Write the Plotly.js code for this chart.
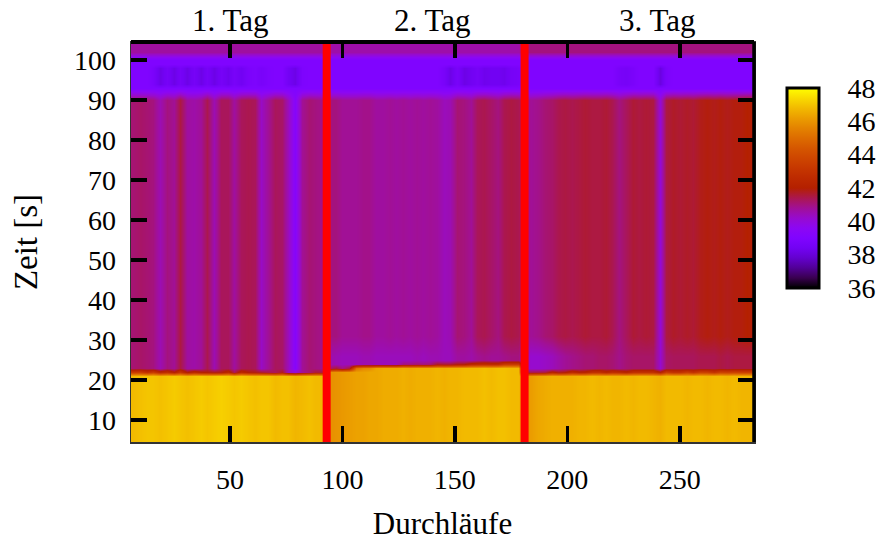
<!DOCTYPE html>
<html>
<head>
<meta charset="utf-8">
<script src="https://cdn.plot.ly/plotly-3.0.1.min.js"></script>
<style>html,body{margin:0;padding:0;background:#fff;}#chart{width:878px;height:541px;}</style>
</head>
<body>
<div id="chart"></div>
<script>
// Run (Durchlauf) column centres and time rows [s]
const runs = [7,10,13,16,19,22,25,28,31,34,37,40,43,46,49,52,55,58,61,64,67,70,73,76,79,82,85,88,91,
  94,97,100,103,106,109,112,115,118,121,124,127,130,133,136,139,142,145,148,151,154,157,160,163,166,169,172,175,178,
  181,184,187,190,193,196,199,202,205,208,211,214,217,220,223,226,229,232,235,238,241,244,247,250,253,256,259,262,265,268,271,274,277,280,283];
const times = [5,6,7,8,9,10,11,12,13,14,15,16,17,18,19,20,21,22,23,24,25,26,27,28,29,30,31,32,33,34,35,36,37,38,39,40,
  41,42,43,44,45,46,47,48,49,50,51,52,53,54,55,56,57,58,59,60,61,62,63,64,65,66,67,68,69,70,71,72,73,74,75,76,77,78,79,80,
  81,82,83,84,85,86,87,88,89,90,91,92,93,94,95,96,97,98,99,100,101,102,103,104];

// temperature of the upper body region (per run column)
const bodyTemp = [41.1,41.2,41.1,41.0,40.5,41.0,40.8,41.5,40.7,40.6,40.8,41.4,40.5,41.3,41.3,40.7,41.3,41.4,41.3,40.3,40.8,41.3,41.2,40.4,39.3,40.8,41.1,41.0,40.9,
  41.0,41.0,40.8,40.8,40.8,40.9,40.9,40.7,40.7,40.8,40.7,40.8,40.7,40.8,40.7,40.8,40.7,40.4,40.5,41.1,41.0,40.8,41.3,41.4,41.2,41.0,41.4,41.5,41.4,
  40.9,40.8,40.9,41.1,41.2,41.4,41.5,41.4,41.5,41.6,41.5,41.5,41.6,41.4,41.0,41.3,41.6,41.5,41.6,41.5,40.1,41.5,41.7,41.6,41.7,41.6,41.8,41.9,41.8,41.9,41.8,41.9,41.9,42.0,41.9];
// temperature just above the hot layer
const lowBodyTemp = [41.1,41.2,41.1,41.0,40.5,41.0,40.8,41.5,40.7,40.6,40.8,41.4,40.5,41.3,41.3,40.7,41.3,41.4,41.3,40.3,40.8,41.3,41.2,40.4,39.3,40.8,41.1,41.0,40.9,
  40.6,40.5,40.4,40.4,40.4,40.5,40.5,40.4,40.4,40.4,40.4,40.4,40.4,40.5,40.4,40.5,40.5,40.4,40.4,40.7,40.7,40.6,40.8,40.9,40.8,40.8,40.9,41.0,41.0,
  40.3,40.2,40.2,40.3,40.4,40.6,40.8,40.9,41.0,41.1,41.1,41.2,41.2,41.1,40.9,41.1,41.2,41.2,41.2,41.2,40.2,41.2,41.3,41.3,41.3,41.3,41.4,41.4,41.4,41.5,41.4,41.5,41.5,41.5,41.5];
// core of the cold band near 95 s
const bandCoreTemp = [39.0,39.0,39.0,38.8,38.2,38.6,38.2,38.6,38.2,38.6,38.2,38.6,38.2,38.6,38.3,38.7,38.4,38.8,38.9,38.7,38.9,39.0,39.0,38.5,38.2,38.9,39.0,39.0,39.0,
  39.0,39.0,39.0,39.0,39.0,39.0,39.0,39.0,39.0,39.0,39.0,39.0,39.0,39.0,39.0,39.0,39.0,38.7,38.2,38.7,38.2,38.4,38.6,38.3,38.4,38.4,38.3,38.6,38.7,
  39.0,39.0,39.0,39.0,39.0,39.0,39.0,39.0,39.0,39.0,39.0,39.0,39.0,39.0,38.7,38.6,38.8,39.0,39.0,39.0,38.1,38.8,39.0,39.0,39.0,39.0,39.0,39.0,39.0,39.0,39.0,39.0,39.0,39.0,39.0];
// hot layer (0 .. boundary)
const hotTemp = [46.8,46.9,47.0,47.0,46.9,47.0,47.1,47.0,46.9,47.0,47.1,47.0,47.1,47.2,47.1,47.0,47.1,47.0,46.9,47.0,47.0,46.8,46.9,46.9,46.7,46.8,46.9,46.8,46.8,
  45.9,46.0,46.1,46.2,46.3,46.3,46.4,46.4,46.5,46.5,46.5,46.6,46.5,46.6,46.6,46.6,46.7,46.6,46.7,46.7,46.8,46.8,46.8,46.9,46.8,46.9,46.9,46.8,46.8,
  46.0,46.2,46.4,46.5,46.6,46.6,46.6,46.6,46.7,46.7,46.8,46.7,46.8,46.7,46.7,46.8,46.7,46.8,46.8,46.7,46.6,46.8,46.8,46.8,46.7,46.8,46.8,46.7,46.8,46.8,46.7,46.8,46.7,46.7,46.7];
// upper edge of the hot layer [s]
const hotEdge = [21.9,21.9,21.8,21.9,21.8,21.8,21.7,21.8,21.7,21.8,21.7,21.6,21.7,21.6,21.7,21.6,21.7,21.6,21.6,21.7,21.6,21.5,21.6,21.5,21.6,21.5,21.5,21.6,21.6,
  22.6,22.7,22.6,22.7,23.3,23.4,23.4,23.5,23.5,23.5,23.5,23.6,23.6,23.6,23.6,23.6,23.7,23.7,23.7,23.7,23.7,23.8,23.8,23.8,23.8,23.8,23.9,23.9,23.9,
  21.7,21.7,21.7,21.7,21.8,21.7,21.7,21.8,21.7,21.7,21.8,21.8,21.7,21.8,21.8,21.7,21.8,21.8,21.8,21.8,21.8,21.9,21.8,21.8,21.9,21.8,21.9,21.9,21.8,21.9,21.9,21.9,21.9,21.9,21.9];
const bandTemp = 39.0;
const topTempByDay = [40.7, 40.6, 41.0];
const daySplits = [93, 181];
const dayLabels = ['1. Tag', '2. Tag', '3. Tag'];
const dayLabelRuns = [50, 140, 240];
const cbTicks = [36, 38, 40, 42, 44, 46, 48];
const xTicks = [50, 100, 150, 200, 250];
const yTicks = [10, 20, 30, 40, 50, 60, 70, 80, 90, 100];

// gnuplot default palette (rgbformulae 7,5,15)
const palette = [
  [0.00,'rgb(0,0,0)'],[0.05,'rgb(57,0,79)'],[0.10,'rgb(81,0,150)'],[0.15,'rgb(99,1,206)'],
  [0.20,'rgb(114,2,243)'],[0.25,'rgb(128,4,255)'],[0.30,'rgb(140,7,243)'],[0.35,'rgb(151,11,206)'],
  [0.40,'rgb(161,16,150)'],[0.45,'rgb(171,23,79)'],[0.50,'rgb(180,32,0)'],[0.55,'rgb(189,42,0)'],
  [0.60,'rgb(198,55,0)'],[0.65,'rgb(206,70,0)'],[0.70,'rgb(213,87,0)'],[0.75,'rgb(221,108,0)'],
  [0.80,'rgb(228,131,0)'],[0.85,'rgb(235,157,0)'],[0.90,'rgb(242,186,0)'],[0.95,'rgb(249,219,0)'],
  [1.00,'rgb(255,255,0)']];

// build z table from the arrays
function dayOf(r) { return r < daySplits[0] ? 0 : (r < daySplits[1] ? 1 : 2); }
function mix(a, b, w) { return a + (b - a) * Math.max(0, Math.min(1, w)); }
const z = times.map(t => runs.map((r, i) => {
  const b = hotEdge[i], h = hotTemp[i], lo = lowBodyTemp[i], bo = bodyTemp[i];
  const top = topTempByDay[dayOf(r)];
  if (t <= b - 0.5) return h;
  if (t < b + 0.5) return mix(lo, h, b - t + 0.5);
  if (t <= 90) return mix(lo, bo, (t - 26) / 5);
  if (t <= 92) return mix(bo, bandTemp, (t - 90) / 3);
  if (t >= 94 && t <= 98) return bandCoreTemp[i];
  if (t <= 100) return bandTemp;
  if (t === 101) return mix(bandTemp, top, 0.5);
  return top;
}));

const W = 878, H = 541;
const M = {l: 131, r: 124, t: 42, b: 99, autoexpand: false};
const plotW = W - M.l - M.r, plotH = H - M.t - M.b;
const cbX = 1 + 33 / plotW, cbThick = 32, cbLen = 200, cbY = 0.635;
const FONT = 'Liberation Serif';

const trace = {
  type: 'heatmap', x: runs, y: times, z: z,
  colorscale: palette, zmin: 36, zmax: 48, zsmooth: 'best',
  hoverinfo: 'skip',
  colorbar: {
    x: cbX, xanchor: 'left', xref: 'paper', y: cbY, yanchor: 'middle',
    thickness: cbThick, thicknessmode: 'pixels', len: cbLen, lenmode: 'pixels',
    xpad: 0, ypad: 0, outlinewidth: 3, outlinecolor: '#000',
    tickvals: cbTicks, ticks: 'outside', ticklen: 22, tickcolor: 'rgba(0,0,0,0)',
    tickfont: {family: FONT, size: 28, color: '#000'}
  }
};

const shapes = [];
daySplits.forEach(s => shapes.push({type: 'line', xref: 'x', yref: 'paper', x0: s, x1: s, y0: 0, y1: 1,
  line: {color: '#ff0000', width: 8}}));
// thick frame on top and right
shapes.push({type: 'line', xref: 'paper', yref: 'paper', x0: 0, x1: 1, y0: 1, y1: 1, line: {color: '#000', width: 4}});
shapes.push({type: 'line', xref: 'paper', yref: 'paper', x0: 1, x1: 1, y0: 0, y1: 1, line: {color: '#000', width: 3.5}});
// colourbar dashes on both sides
const cbLeft = cbX, cbRight = cbX + cbThick / plotW, dash = 10 / plotW;
const cbBot = cbY - cbLen / 2 / plotH, cbSpan = cbLen / plotH;
cbTicks.slice(1, -1).forEach(v => {
  const yy = cbBot + (v - 36) / 12 * cbSpan;
  shapes.push({type: 'line', xref: 'paper', yref: 'paper', x0: cbLeft, x1: cbLeft + dash, y0: yy, y1: yy, line: {color: '#000', width: 3}});
  shapes.push({type: 'line', xref: 'paper', yref: 'paper', x0: cbRight - dash, x1: cbRight, y0: yy, y1: yy, line: {color: '#000', width: 3}});
});

const annotations = dayLabels.map((t, i) => ({
  text: t, x: dayLabelRuns[i], xref: 'x', y: 1.055, yref: 'paper', yanchor: 'middle',
  showarrow: false, font: {family: FONT, size: 31, color: '#000'}
}));

const axisCommon = {
  ticks: 'inside', ticklen: 16, tickwidth: 3.5, tickcolor: '#000',
  showline: true, linecolor: '#333', linewidth: 1.5, mirror: 'ticks',
  showgrid: false, zeroline: false,
  tickfont: {family: FONT, size: 28, color: '#000'}
};

const layout = {
  width: W, height: H, margin: M,
  paper_bgcolor: '#fff', plot_bgcolor: '#fff',
  font: {family: FONT, size: 28, color: '#000'},
  xaxis: Object.assign({}, axisCommon, {
    range: [6, 283], tickvals: xTicks, ticklabelstandoff: 12,
    title: {text: 'Durchläufe', font: {family: FONT, size: 31, color: '#000'}, standoff: 20}
  }),
  yaxis: Object.assign({}, axisCommon, {
    range: [4.5, 104.5], tickvals: yTicks, ticklabelstandoff: 8,
    title: {text: 'Zeit [s]', font: {family: FONT, size: 33, color: '#000'}, standoff: 26}
  }),
  shapes: shapes,
  annotations: annotations
};

Plotly.newPlot('chart', [trace], layout, {displayModeBar: false, staticPlot: true});
</script>
</body>
</html>
